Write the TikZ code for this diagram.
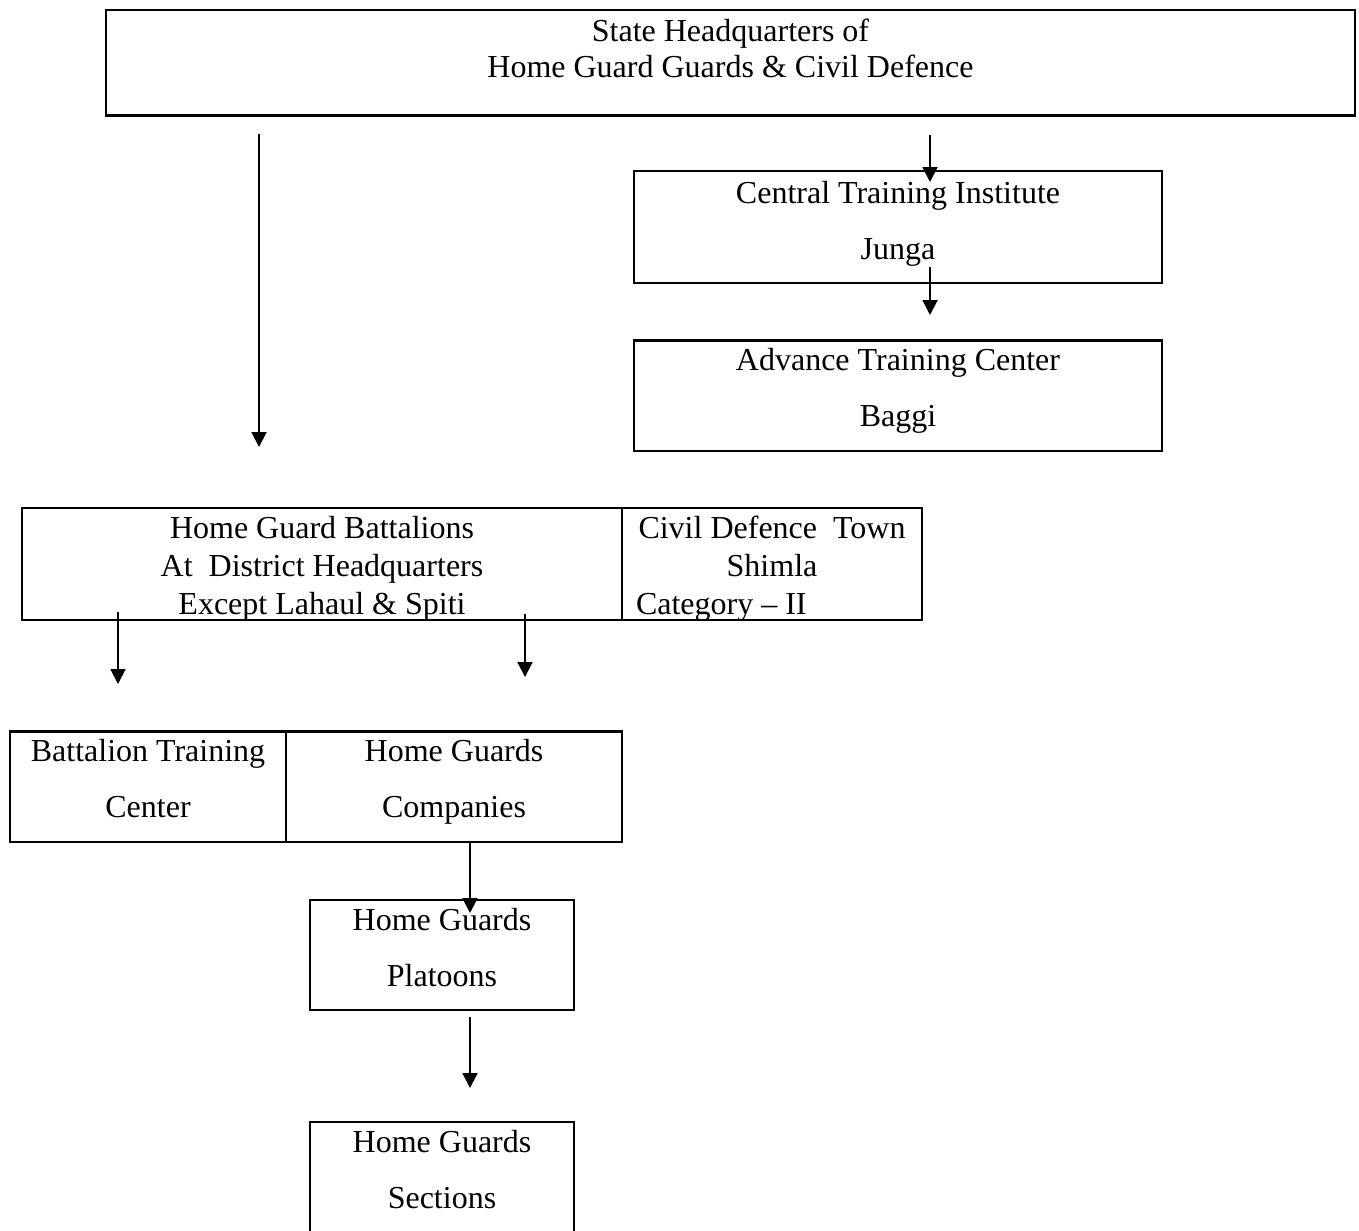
\documentclass[tikz,border=0pt]{standalone}
\usepackage{fontspec}
\setmainfont{Liberation Serif}
\usetikzlibrary{arrows.meta}

\newdimen\px
\px=0.375pt

\begin{document}
\begin{tikzpicture}[x=0.375pt,y=-0.375pt]

      \useasboundingbox (0,0) rectangle (1359,1230);

      % Nodes
      \begin{scope}[every node/.style={rectangle,draw,line width=1.1pt,inner sep=0pt,align=center,
          font=\fontsize{12pt}{14.25pt}\selectfont}]
        \node[minimum width=1249*\px,text height=25.5pt,text depth=13.9pt] (hq) at (730.5,62.5)
          {State Headquarters of\\[-0.75pt]Home Guard Guards \& Civil Defence};

        \node[minimum width=528*\px,text height=33pt,text depth=9pt] (cti) at (898,227)
          {Central Training Institute\\[6.75pt]Junga};
        \node[minimum width=528*\px,text height=32.6pt,text depth=9pt] (atc) at (898,395.5)
          {Advance Training Center\\[6.75pt]Baggi};

        \node[minimum width=600*\px,text height=39.75pt,text depth=2.25pt] (bn) at (322,564)
          {Home Guard Battalions\\At~~District Headquarters\\Except Lahaul \& Spiti};
        \node[minimum width=300*\px,text height=39.75pt,text depth=2.25pt] (cd) at (772,564)
          {Civil Defence~~Town\\Shimla\\\makebox[272\px][l]{Category – II}};

        \node[minimum width=276*\px,text height=32.6pt,text depth=9pt] (btc) at (148,786.5)
          {Battalion Training\\[6.75pt]Center};
        \node[minimum width=336*\px,text height=32.6pt,text depth=9pt] (coy) at (454,786.5)
          {Home Guards\\[6.75pt]Companies};

        \node[minimum width=264*\px,text height=32.25pt,text depth=9pt] (plt) at (442,955)
          {Home Guards\\[6.75pt]Platoons};
        \node[minimum width=264*\px,text height=32.25pt,text depth=12pt] (sec) at (442,1181)
          {Home Guards\\[6.75pt]Sections};
      \end{scope}

      % Arrow ends
      \coordinate (hqa) at (259,134);
      \coordinate (bna) at (259,447);
      \coordinate (hqb) at (930,135);
      \coordinate (ctia) at (930,182);
      \coordinate (ctib) at (930,267);
      \coordinate (atca) at (930,315);
      \coordinate (bnb) at (118,612);
      \coordinate (btca) at (118,684);
      \coordinate (bnc) at (525,614);
      \coordinate (coya) at (525,677);
      \coordinate (coyb) at (470,843);
      \coordinate (plta) at (470,913);
      \coordinate (pltb) at (470,1017);
      \coordinate (seca) at (470,1088);

      % Edges
      \begin{scope}[every edge/.style={draw,line width=0.75pt,-{Triangle[length=5.6pt,width=5.6pt]}}]
        \path (hqa) edge (bna);
        \path (hqb) edge (ctia);
        \path (ctib) edge (atca);

        \path (bnb) edge (btca);
        \path (bnc) edge (coya);

        \path (coyb) edge (plta);
        \path (pltb) edge (seca);
      \end{scope}

    \end{tikzpicture}
\end{document}
